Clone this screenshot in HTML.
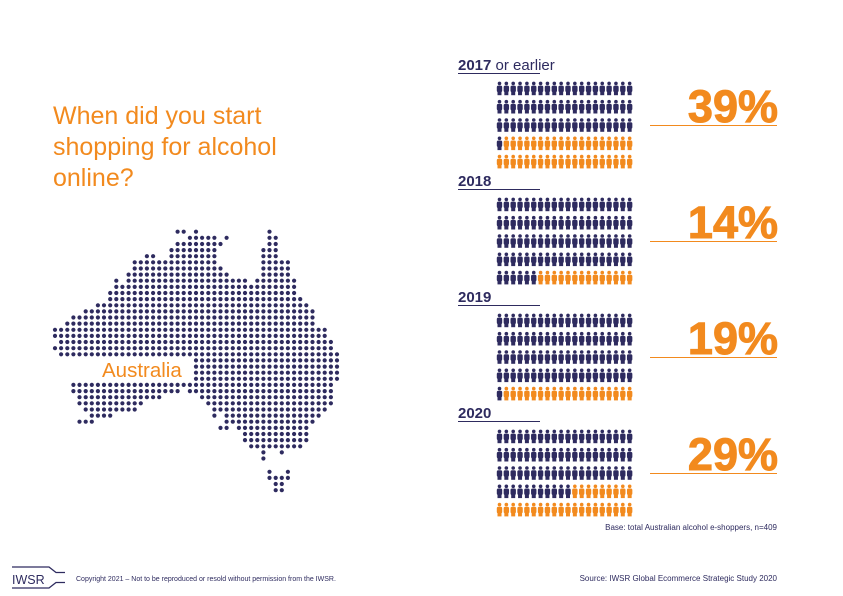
<!DOCTYPE html>
<html><head><meta charset="utf-8"><style>
body{margin:0;background:#fff;}
svg{display:block;font-family:"Liberation Sans",sans-serif;}
</style></head><body>
<svg id="s" width="843" height="596" viewBox="0 0 843 596" xmlns="http://www.w3.org/2000/svg">
<g fill="#f28a1e" font-size="25">
<text x="53" y="124">When did you start</text>
<text x="53" y="155">shopping for alcohol</text>
<text x="53" y="186">online?</text>
</g>
<g id="map" fill="#2e2b5f"></g>
<text x="102" y="377" fill="#f28a1e" font-size="20.5">Australia</text>
<g id="figs"></g>
<g fill="#2e2b5f" font-size="15" font-weight="bold">
<text x="458" y="70">2017 <tspan font-weight="normal">or earlier</tspan></text>
<text x="458" y="186">2018</text>
<text x="458" y="302">2019</text>
<text x="458" y="418">2020</text>
</g>
<g stroke="#2e2b5f" stroke-width="1">
<line x1="458" y1="73.5" x2="540" y2="73.5"/><line x1="458" y1="189.5" x2="540" y2="189.5"/>
<line x1="458" y1="305.5" x2="540" y2="305.5"/><line x1="458" y1="421.5" x2="540" y2="421.5"/>
</g>
<g fill="#f28a1e" font-size="45" font-weight="bold" text-anchor="end" stroke="#f28a1e" stroke-width="1">
<text x="778" y="122">39%</text><text x="778" y="238">14%</text>
<text x="778" y="354">19%</text><text x="778" y="470">29%</text>
</g>
<g stroke="#f28a1e" stroke-width="1">
<line x1="650" y1="125.5" x2="777" y2="125.5"/><line x1="650" y1="241.5" x2="777" y2="241.5"/>
<line x1="650" y1="357.5" x2="777" y2="357.5"/><line x1="650" y1="473.5" x2="777" y2="473.5"/>
</g>
<text x="777" y="530" text-anchor="end" fill="#2e2b5f" font-size="8">Base: total Australian alcohol e-shoppers, n=409</text>
<g fill="none" stroke="#2e2b5f" stroke-width="1.3">
<path d="M12 567 H49 L56 572.5 H65"/><path d="M12 588 H49 L56 582.5 H65"/>
</g>
<text x="12" y="584" fill="#2e2b5f" font-size="12.5">IWSR</text>
<text x="76" y="581" fill="#2e2b5f" font-size="7">Copyright 2021 – Not to be reproduced or resold without permission from the IWSR.</text>
<text x="777" y="581" text-anchor="end" fill="#2e2b5f" font-size="8">Source: IWSR Global Ecommerce Strategic Study 2020</text>
</svg>
<script>
var rows=[[[20,21],[23,23],[35,35]],[[22,26],[28,28],[35,36]],[[20,27],[35,36]],[[19,26],[34,36]],[[15,16],[19,26],[34,36]],
[[13,26],[34,38]],[[13,27],[34,38]],[[12,28],[34,38]],[[10,10],[12,31],[33,39]],[[10,39]],[[9,39]],[[9,40]],[[7,41]],[[5,42]],[[3,42]],[[2,42]],
[[0,44]],[[0,44]],[[1,45]],[[0,45]],[[1,46]],[[23,46]],[[23,46]],[[23,46]],[[23,46]],[[3,45]],[[3,20],[22,45]],[[4,17],[24,45]],[[4,14],[25,45]],
[[5,13],[26,44]],[[6,9],[26,26],[28,43]],[[4,6],[28,42]],[[27,28],[30,41]],[[31,41]],[[31,41]],[[32,40]],[[34,34],[37,37]],[[34,34]],[],
[[35,35],[38,38]],[[35,38]],[[36,37]],[[36,37]]];
var m=document.getElementById("map"),h="";
rows.forEach(function(r,j){var y=231.7+j*6.13;if(j>=39)y+=1;r.forEach(function(s){for(var c=s[0];c<=s[1];c++){h+='<circle cx="'+(55+c*6.13).toFixed(1)+'" cy="'+y.toFixed(1)+'" r="2.1"/>';}});});
m.innerHTML=h;
var f=document.getElementById("figs"),g="",navy=[61,86,81,71];
for(var b=0;b<4;b++){for(var r=0;r<5;r++){for(var c=0;c<20;c++){var i=r*20+c;var col=i<navy[b]?"#2e2b5f":"#f28a1e";
var x=499.5+c*6.85,y=88+b*116+r*18.3;
g+='<g fill="'+col+'"><circle cx="'+x+'" cy="'+(y-4.6)+'" r="1.8"/><rect x="'+(x-2.7)+'" y="'+(y-2.4)+'" width="5.4" height="6.5" rx="1.6"/><rect x="'+(x-2)+'" y="'+(y+2)+'" width="4" height="5.2"/></g>';}}}
f.innerHTML=g;
</script>
</body></html>
